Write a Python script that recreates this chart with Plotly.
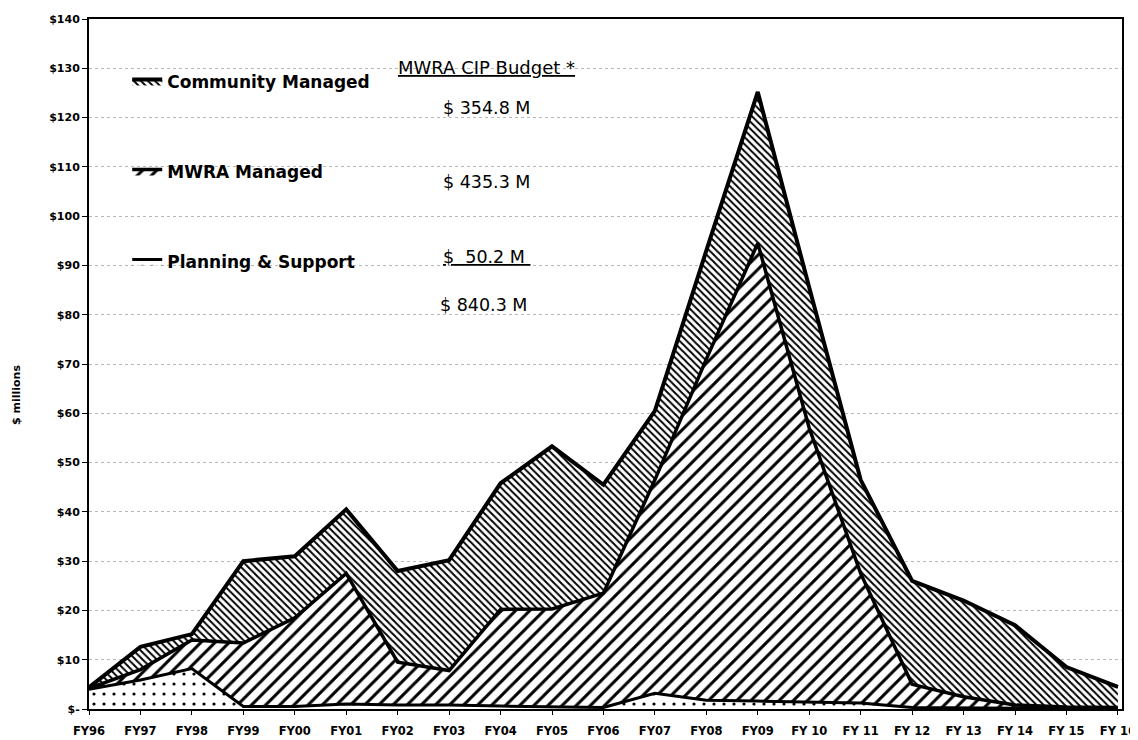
import plotly.graph_objects as go

fiscal_years = ["FY96", "FY97", "FY98", "FY99", "FY00", "FY01", "FY02", "FY03", "FY04", "FY05",
                "FY06", "FY07", "FY08", "FY09", "FY 10", "FY 11", "FY 12", "FY 13", "FY 14", "FY 15", "FY 16"]

planning_support = [4.0, 5.9, 8.2, 0.5, 0.5, 1.0, 0.8, 0.8, 0.6, 0.4,
                    0.3, 3.2, 1.8, 1.6, 1.4, 1.2, 0.3, 0.2, 0.1, 0.1, 0.1]
mwra_managed = [0.2, 2.1, 5.8, 12.9, 18.0, 26.5, 8.7, 7.0, 19.6, 19.9,
                23.2, 43.3, 69.2, 92.9, 55.6, 26.3, 4.7, 2.3, 0.7, 0.3, 0.2]
community_managed = [0.2, 4.6, 1.2, 16.6, 12.5, 13.0, 18.5, 22.4, 25.6, 33.0,
                     22.0, 14.0, 22.0, 30.7, 28.5, 19.0, 21.0, 19.5, 16.2, 8.1, 4.2]

y_tick_values = [0, 10, 20, 30, 40, 50, 60, 70, 80, 90, 100, 110, 120, 130, 140]
y_tick_labels = ["$-", "$10", "$20", "$30", "$40", "$50", "$60", "$70", "$80", "$90",
                 "$100", "$110", "$120", "$130", "$140"]

budget_title = "MWRA CIP Budget *"
budget_lines = ["$ 354.8 M", "$ 435.3 M", "$&nbsp; 50.2 M&nbsp;", "$ 840.3 M"]

FONT = "DejaVu Sans"

fig = go.Figure()

fig.add_trace(go.Scatter(
    x=fiscal_years, y=planning_support, name="Planning & Support",
    stackgroup="one", mode="lines",
    line=dict(color="black", width=3),
    fillpattern=dict(shape=".", size=10, solidity=0.08, fgcolor="black", fgopacity=1, bgcolor="white"),
    legendgroup="p", legendrank=3,
))
fig.add_trace(go.Scatter(
    x=fiscal_years, y=mwra_managed, name="MWRA Managed",
    stackgroup="one", mode="lines",
    line=dict(color="black", width=3.5),
    fillpattern=dict(shape="/", size=10, solidity=0.3, fgcolor="black", fgopacity=1, bgcolor="white"),
    legendgroup="m", legendrank=2,
))
fig.add_trace(go.Scatter(
    x=fiscal_years, y=community_managed, name="Community Managed",
    stackgroup="one", mode="lines",
    line=dict(color="black", width=4),
    fillpattern=dict(shape="\\", size=5, solidity=0.4, fgcolor="black", fgopacity=1, bgcolor="white"),
    legendgroup="c", legendrank=1,
))

annotations = [
    dict(text="<u>" + budget_title + "</u>", x=0.297, y=0.929, xref="paper", yref="paper",
         xanchor="left", yanchor="middle", showarrow=False,
         font=dict(family=FONT, size=18, color="black")),
]
budget_pos = [(0.341, 0.871), (0.341, 0.764), (0.341, 0.655), (0.338, 0.586)]
for i, (txt, (px, py)) in enumerate(zip(budget_lines, budget_pos)):
    t = "<u>" + txt + "</u>" if i == 2 else txt
    annotations.append(dict(text=t, x=px, y=py, xref="paper", yref="paper",
                            xanchor="left", yanchor="middle", showarrow=False,
                            font=dict(family=FONT, size=17.5, color="black")))
annotations.append(dict(text="<b>$ millions</b>", x=-0.0707, y=0.455, xref="paper", yref="paper",
                        xanchor="center", yanchor="middle", showarrow=False, textangle=-90,
                        font=dict(family=FONT, size=11, color="black")))

# the page body keeps its 8px margin; the figure is offset by it
fig.update_layout(
    width=1130, height=732,
    margin=dict(l=81, r=16, t=11, b=31, autoexpand=False),
    paper_bgcolor="white", plot_bgcolor="white",
    showlegend=True,
    legend=dict(x=0.037, y=0.935, xanchor="left", yanchor="top",
                bgcolor="rgba(0,0,0,0)", borderwidth=0,
                traceorder="grouped", tracegroupgap=65,
                font=dict(family=FONT, size=17, color="black", weight="bold"),
                itemwidth=30),
    annotations=annotations,
    font=dict(family=FONT, color="black"),
)

fig.update_xaxes(
    type="category", range=[0, 20.08], automargin=False,
    showline=True, linecolor="black", linewidth=2, mirror=True,
    ticks="outside", ticklen=4, tickcolor="black", ticklabelstandoff=6,
    tickfont=dict(family=FONT, size=11.5, color="black", weight="bold"),
    showgrid=False, zeroline=False,
)
fig.update_yaxes(
    range=[0, 140], tickvals=y_tick_values, ticktext=y_tick_labels, automargin=False,
    showline=True, linecolor="black", linewidth=2, mirror=True,
    ticks="outside", ticklen=5, tickcolor="black",
    tickfont=dict(family=FONT, size=11, color="black", weight="bold"),
    showgrid=True, gridcolor="#b8b8b8", griddash="dot", gridwidth=1,
    zeroline=False,
)

fig.write_html("out.html")
